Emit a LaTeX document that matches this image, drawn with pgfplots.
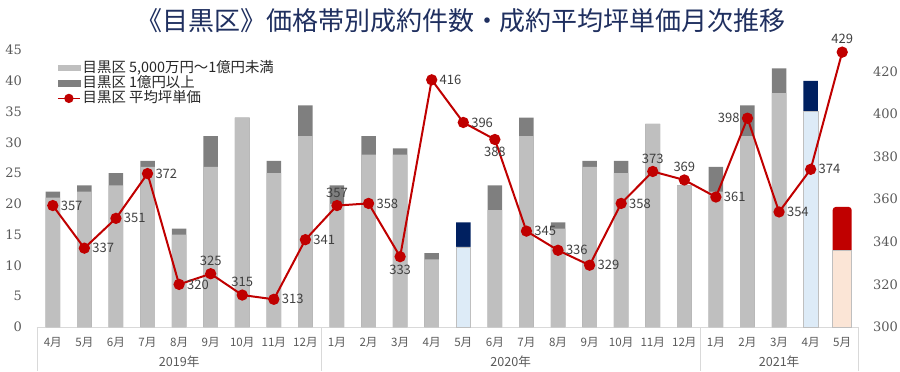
\documentclass[border=0pt]{standalone}
\usepackage{pgfplots}
\pgfplotsset{compat=1.18}
\usepackage{fontspec}
\setmainfont{DejaVu Serif}
\newfontfamily\jp{Noto Sans CJK JP}
\newfontfamily\tickf{DejaVu Serif}
\definecolor{lgray}{HTML}{BFBFBF}
\definecolor{dgray}{HTML}{7F7F7F}
\definecolor{navy}{HTML}{002060}
\definecolor{lblue}{HTML}{DDEBF7}
\definecolor{cred}{HTML}{C00000}
\definecolor{peach}{HTML}{FBE5D6}
\definecolor{tickc}{HTML}{595959}
\definecolor{labc}{HTML}{404040}
\definecolor{titlec}{HTML}{1F2F5F}
\definecolor{axc}{HTML}{D9D9D9}
\begin{document}
\begin{tikzpicture}
\path[use as bounding box] (0,0) rectangle (450pt,185.5pt);
\node[font=\jp\fontsize{13}{15}\selectfont, text=titlec] at (230.5pt,175pt) {《目黒区》価格帯別成約件数・成約平均坪単価月次推移};

\begin{axis}[
 at={(18.5pt,22pt)}, anchor=south west,
 scale only axis, width=410.5pt, height=138.5pt,
 xmin=-0.5, xmax=25.5, ymin=0, ymax=45,
 ybar, bar width=0.46, bar shift=0pt,
 axis x line*=bottom, axis y line*=left,
 x axis line style={draw=axc, -}, y axis line style={draw=none},
 xtick={0,...,25},
 xticklabels={4月,5月,6月,7月,8月,9月,10月,11月,12月,1月,2月,3月,4月,5月,6月,7月,8月,9月,10月,11月,12月,1月,2月,3月,4月,5月},
 ytick={0,5,...,45},
 major tick length=0pt,
 xticklabel style={font=\jp\fontsize{5.8}{6}\selectfont, text=tickc, yshift=-1.5pt},
 yticklabel style={font=\tickf\fontsize{6.5}{7}\selectfont, text=tickc, xshift=-4pt},
 /pgf/number format/assume math mode=true,
 clip=false,
]
\addplot[fill=dgray, draw=none, bar shift=0pt] coordinates {(0,22)(1,23)(2,25)(3,27)(4,16)(5,31)(6,34)(7,27)(8,36)(9,23)(10,31)(11,29)(12,12)(14,23)(15,34)(16,17)(17,27)(18,27)(19,33)(20,23)(21,26)(22,36)(23,42)};
\addplot[fill=lgray, draw=none, bar shift=0pt] coordinates {(0,21)(1,22)(2,23)(3,26)(4,15)(5,26)(6,34)(7,25)(8,31)(9,20)(10,28)(11,28)(12,11)(14,19)(15,31)(16,16)(17,26)(18,25)(19,33)(20,23)(21,22)(22,31)(23,38)};
\addplot[fill=navy, draw=none, bar shift=0pt] coordinates {(13,17)(24,40)};
\addplot[fill=lblue, draw=lgray, line width=0.4pt, bar shift=0pt] coordinates {(13,13)(24,35)};
\addplot[fill=cred, draw=none, bar shift=0pt, bar width=0.6, rounded corners=1.5pt] coordinates {(25,19.5)};
\addplot[fill=peach, draw=lgray, line width=0.4pt, bar shift=0pt, bar width=0.6] coordinates {(25,12.5)};
\draw[axc] (axis cs:-0.5,0) -- ++(0pt,-22pt);
\draw[axc] (axis cs:8.5,0) -- ++(0pt,-22pt);
\draw[axc] (axis cs:20.5,0) -- ++(0pt,-22pt);
\draw[axc] (axis cs:25.5,0) -- ++(0pt,-22pt);
\node[font=\jp\fontsize{6.3}{7}\selectfont, text=tickc, yshift=-17.5pt] at (axis cs:4,0) {2019年};
\node[font=\jp\fontsize{6.3}{7}\selectfont, text=tickc, yshift=-17.5pt] at (axis cs:14.5,0) {2020年};
\node[font=\jp\fontsize{6.3}{7}\selectfont, text=tickc, yshift=-17.5pt] at (axis cs:23,0) {2021年};
\end{axis}

\begin{axis}[
 at={(18.5pt,22pt)}, anchor=south west,
 scale only axis, width=410.5pt, height=138.5pt,
 xmin=-0.5, xmax=25.5, ymin=300, ymax=430,
 axis y line*=right, hide x axis,
 y axis line style={draw=none},
 ytick={300,320,...,420}, major tick length=0pt,
 yticklabel style={font=\tickf\fontsize{6.5}{7}\selectfont, text=tickc, xshift=4pt},
 /pgf/number format/assume math mode=true,
 clip=false,
 legend style={at={(rel axis cs:0.024,0.97)}, anchor=north west, draw=none, fill=none,
   font=\jp\fontsize{7.2}{7.5}\selectfont, text=black!85, row sep=-2pt, inner sep=0pt,
   nodes={inner sep=1pt}},
 legend cell align=left,
]
\addlegendimage{legend image code/.code={\fill[lgray] (0pt,-1.3pt) rectangle (11pt,1.3pt);}}
\addlegendentry{目黒区 5,000万円～1億円未満}
\addlegendimage{legend image code/.code={\fill[dgray] (0pt,-1.3pt) rectangle (11pt,1.3pt);}}
\addlegendentry{目黒区 1億円以上}
\addplot[cred, line width=1pt, mark=*, mark size=2.3pt, mark options={fill=cred, draw=cred},
  legend image code/.code={\draw[cred,line width=0.8pt] (0pt,0pt) -- (11pt,0pt); \fill[cred] (5.5pt,0pt) circle (1.8pt);},
  nodes near coords, point meta=y,
  visualization depends on={value \thisrow{a}\as\anc},
  every node near coord/.append style={anchor=\anc, font=\jp\fontsize{6.5}{7}\selectfont, text=labc, inner sep=1pt, outer sep=3pt},
] table[x=x, y=y] {
x y a
0 357 west
1 337 west
2 351 west
3 372 west
4 320 west
5 325 south west
6 315 south west
7 313 west
8 341 west
9 357 south west
10 358 west
11 333 north west
12 416 west
13 396 west
14 388 north east
15 345 west
16 336 west
17 329 west
18 358 west
19 373 south west
20 369 south
21 361 west
22 398 east
23 354 west
24 374 west
25 429 south
};
\addlegendentry{目黒区 平均坪単価}
\end{axis}
\end{tikzpicture}
\end{document}
